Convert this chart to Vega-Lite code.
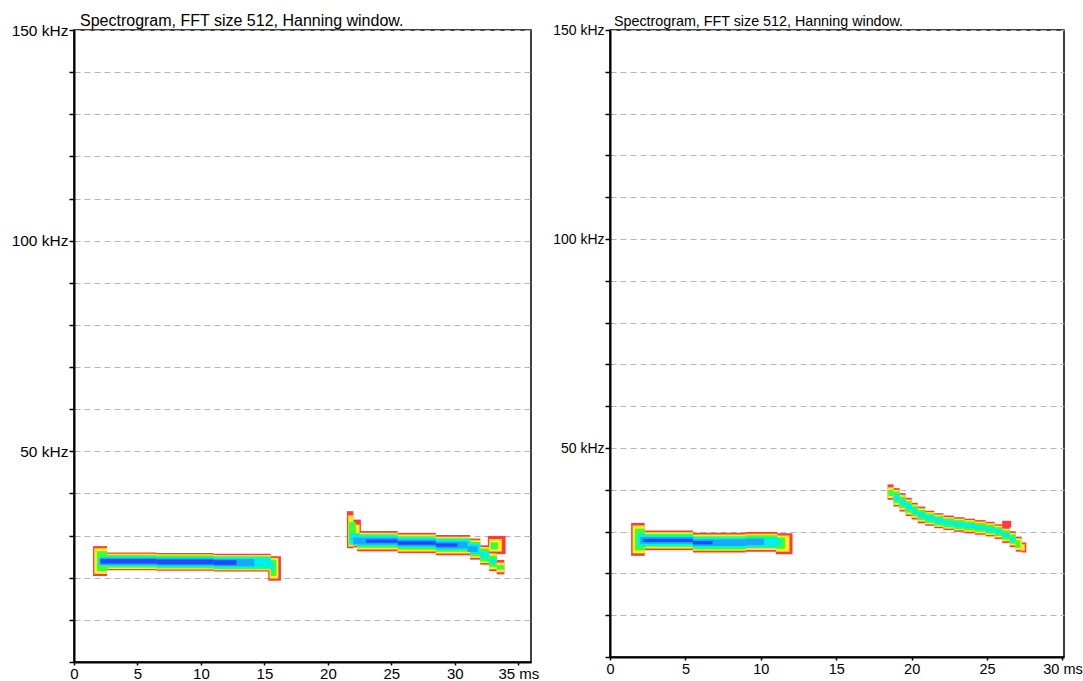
{
  "$schema": "https://vega.github.io/schema/vega-lite/v6.json",
  "padding": {"left": 10, "top": 12, "right": 0, "bottom": 0},
  "bounds": "flush",
  "spacing": 79,
  "background": "white",
  "config": {
    "view": {"stroke": "black", "strokeWidth": 1.5},
    "font": "Liberation Sans",
    "axis": {"labelFont": "Liberation Sans", "labelColor": "black", "domainColor": "black", "domainWidth": 2, "tickColor": "black", "tickWidth": 1.5, "title": null, "labelOverlap": false, "labelFlush": false}
  },
  "datasets": {
    "L": [
      {"t": 1.5, "t2": 2.6, "f": 20.4, "f2": 27.5, "lv": 1},
      {"t": 2.5, "t2": 6.5, "f": 21.8, "f2": 26.0, "lv": 1},
      {"t": 6.5, "t2": 11, "f": 21.65, "f2": 25.85, "lv": 1},
      {"t": 11, "t2": 15.5, "f": 21.5, "f2": 25.7, "lv": 1},
      {"t": 15.3, "t2": 16.3, "f": 19.3, "f2": 25.1, "lv": 1},
      {"t": 21.5, "t2": 22.0, "f": 27.0, "f2": 35.8, "lv": 1},
      {"t": 22.0, "t2": 22.6, "f": 27.2, "f2": 33.8, "lv": 1},
      {"t": 22.3, "t2": 25.5, "f": 26.3, "f2": 31.1, "lv": 1},
      {"t": 25.5, "t2": 28.5, "f": 25.85, "f2": 30.65, "lv": 1},
      {"t": 28.5, "t2": 31.2, "f": 25.35, "f2": 30.15, "lv": 1},
      {"t": 31.2, "t2": 32.0, "f": 24.3, "f2": 29.3, "lv": 1},
      {"t": 32.0, "t2": 32.7, "f": 23.1, "f2": 27.7, "lv": 1},
      {"t": 32.7, "t2": 33.3, "f": 21.6, "f2": 26.2, "lv": 1},
      {"t": 33.3, "t2": 33.9, "f": 20.8, "f2": 24.2, "lv": 1},
      {"t": 32.6, "t2": 34.0, "f": 25.6, "f2": 29.9, "lv": 1},

      {"t": 1.6, "t2": 2.6, "f": 20.9, "f2": 27.0, "lv": 2},
      {"t": 2.5, "t2": 6.5, "f": 22.1, "f2": 25.7, "lv": 2},
      {"t": 6.5, "t2": 11, "f": 21.95, "f2": 25.55, "lv": 2},
      {"t": 11, "t2": 15.5, "f": 21.8, "f2": 25.4, "lv": 2},
      {"t": 15.4, "t2": 16.1, "f": 19.8, "f2": 24.7, "lv": 2},
      {"t": 21.6, "t2": 22.0, "f": 27.4, "f2": 34.8, "lv": 2},
      {"t": 22.0, "t2": 22.5, "f": 27.6, "f2": 32.6, "lv": 2},
      {"t": 22.3, "t2": 25.5, "f": 26.7, "f2": 30.7, "lv": 2},
      {"t": 25.5, "t2": 28.5, "f": 26.25, "f2": 30.25, "lv": 2},
      {"t": 28.5, "t2": 31.2, "f": 25.75, "f2": 29.75, "lv": 2},
      {"t": 31.2, "t2": 32.0, "f": 24.7, "f2": 28.9, "lv": 2},
      {"t": 32.0, "t2": 32.7, "f": 23.5, "f2": 27.3, "lv": 2},
      {"t": 32.7, "t2": 33.3, "f": 22.0, "f2": 25.8, "lv": 2},
      {"t": 33.3, "t2": 33.9, "f": 21.3, "f2": 23.6, "lv": 2},
      {"t": 32.7, "t2": 33.7, "f": 26.2, "f2": 29.2, "lv": 2},

      {"t": 1.8, "t2": 2.6, "f": 21.6, "f2": 26.3, "lv": 3},
      {"t": 2.5, "t2": 6.5, "f": 22.4, "f2": 25.4, "lv": 3},
      {"t": 6.5, "t2": 11, "f": 22.25, "f2": 25.25, "lv": 3},
      {"t": 11, "t2": 15.5, "f": 22.1, "f2": 25.1, "lv": 3},
      {"t": 15.5, "t2": 15.95, "f": 20.4, "f2": 24.3, "lv": 3},
      {"t": 21.65, "t2": 22.2, "f": 27.8, "f2": 33.2, "lv": 3},
      {"t": 22.3, "t2": 25.5, "f": 27.1, "f2": 30.3, "lv": 3},
      {"t": 25.5, "t2": 28.5, "f": 26.65, "f2": 29.85, "lv": 3},
      {"t": 28.5, "t2": 31.2, "f": 26.15, "f2": 29.35, "lv": 3},
      {"t": 31.2, "t2": 32.0, "f": 25.1, "f2": 28.5, "lv": 3},
      {"t": 32.0, "t2": 32.7, "f": 23.9, "f2": 26.9, "lv": 3},
      {"t": 32.7, "t2": 33.3, "f": 22.6, "f2": 25.2, "lv": 3},
      {"t": 33.3, "t2": 33.9, "f": 21.9, "f2": 23.0, "lv": 3},
      {"t": 32.8, "t2": 33.4, "f": 26.8, "f2": 28.4, "lv": 3},

      {"t": 2.0, "t2": 2.6, "f": 23.0, "f2": 25.0, "lv": 4},
      {"t": 2.5, "t2": 6.5, "f": 22.75, "f2": 25.05, "lv": 4},
      {"t": 6.5, "t2": 11, "f": 22.6, "f2": 24.9, "lv": 4},
      {"t": 11, "t2": 15.5, "f": 22.45, "f2": 24.75, "lv": 4},
      {"t": 15.5, "t2": 15.8, "f": 21.8, "f2": 23.6, "lv": 4},
      {"t": 21.75, "t2": 22.5, "f": 28.2, "f2": 30.6, "lv": 4},
      {"t": 22.3, "t2": 25.5, "f": 27.5, "f2": 29.9, "lv": 4},
      {"t": 25.5, "t2": 28.5, "f": 27.05, "f2": 29.45, "lv": 4},
      {"t": 28.5, "t2": 31.2, "f": 26.55, "f2": 28.95, "lv": 4},
      {"t": 31.2, "t2": 32.0, "f": 25.6, "f2": 28.0, "lv": 4},
      {"t": 32.0, "t2": 32.7, "f": 24.6, "f2": 26.2, "lv": 4},
      {"t": 32.7, "t2": 33.3, "f": 23.3, "f2": 24.5, "lv": 4},

      {"t": 2.0, "t2": 6.5, "f": 23.05, "f2": 24.75, "lv": 5},
      {"t": 6.5, "t2": 11, "f": 22.9, "f2": 24.6, "lv": 5},
      {"t": 11, "t2": 14.2, "f": 22.75, "f2": 24.45, "lv": 5},
      {"t": 22.0, "t2": 25.5, "f": 27.9, "f2": 29.5, "lv": 5},
      {"t": 25.5, "t2": 28.5, "f": 27.45, "f2": 29.05, "lv": 5},
      {"t": 28.5, "t2": 31.0, "f": 26.95, "f2": 28.55, "lv": 5},
      {"t": 31.0, "t2": 31.8, "f": 26.1, "f2": 27.5, "lv": 5},

      {"t": 2.1, "t2": 6.5, "f": 23.35, "f2": 24.45, "lv": 6},
      {"t": 6.5, "t2": 11, "f": 23.2, "f2": 24.3, "lv": 6},
      {"t": 11, "t2": 12.8, "f": 23.05, "f2": 24.15, "lv": 6},
      {"t": 23.0, "t2": 25.5, "f": 28.3, "f2": 29.1, "lv": 6},
      {"t": 25.5, "t2": 28.5, "f": 27.85, "f2": 28.65, "lv": 6},
      {"t": 28.5, "t2": 30.2, "f": 27.35, "f2": 28.15, "lv": 6}
    ],
    "R": [
      {"t": 1.4, "t2": 2.3, "f": 24.2, "f2": 32.1, "lv": 1},
      {"t": 2.3, "t2": 5.5, "f": 25.55, "f2": 30.25, "lv": 1},
      {"t": 5.5, "t2": 9, "f": 25.0, "f2": 29.7, "lv": 1},
      {"t": 9, "t2": 11.1, "f": 25.2, "f2": 29.9, "lv": 1},
      {"t": 11.0, "t2": 12.1, "f": 24.6, "f2": 29.6, "lv": 1},
      {"t": 18.4, "t2": 18.8, "f": 37.6, "f2": 41.3, "lv": 1},
      {"t": 18.8, "t2": 19.2, "f": 36.0, "f2": 40.4, "lv": 1},
      {"t": 19.2, "t2": 19.6, "f": 34.8, "f2": 39.2, "lv": 1},
      {"t": 19.6, "t2": 20.0, "f": 33.7, "f2": 38.1, "lv": 1},
      {"t": 20.0, "t2": 20.4, "f": 32.9, "f2": 36.9, "lv": 1},
      {"t": 20.4, "t2": 20.9, "f": 32.0, "f2": 36.0, "lv": 1},
      {"t": 20.9, "t2": 21.5, "f": 31.4, "f2": 35.0, "lv": 1},
      {"t": 21.5, "t2": 22.1, "f": 30.8, "f2": 34.4, "lv": 1},
      {"t": 22.1, "t2": 22.8, "f": 30.35, "f2": 33.85, "lv": 1},
      {"t": 22.8, "t2": 23.5, "f": 29.95, "f2": 33.45, "lv": 1},
      {"t": 23.5, "t2": 24.2, "f": 29.6, "f2": 33.1, "lv": 1},
      {"t": 24.2, "t2": 24.9, "f": 29.25, "f2": 32.75, "lv": 1},
      {"t": 24.9, "t2": 25.5, "f": 28.85, "f2": 32.35, "lv": 1},
      {"t": 25.5, "t2": 26.0, "f": 28.25, "f2": 31.75, "lv": 1},
      {"t": 26.0, "t2": 26.5, "f": 27.3, "f2": 31.1, "lv": 1},
      {"t": 26.5, "t2": 26.9, "f": 26.3, "f2": 30.1, "lv": 1},
      {"t": 26.9, "t2": 27.3, "f": 25.2, "f2": 28.8, "lv": 1},
      {"t": 27.3, "t2": 27.6, "f": 25.0, "f2": 27.4, "lv": 1},
      {"t": 26.0, "t2": 26.6, "f": 31.0, "f2": 32.6, "lv": 1},

      {"t": 1.5, "t2": 2.3, "f": 24.8, "f2": 31.5, "lv": 2},
      {"t": 2.3, "t2": 5.5, "f": 25.95, "f2": 29.85, "lv": 2},
      {"t": 5.5, "t2": 9, "f": 25.4, "f2": 29.3, "lv": 2},
      {"t": 9, "t2": 11.1, "f": 25.6, "f2": 29.5, "lv": 2},
      {"t": 11.0, "t2": 11.9, "f": 25.2, "f2": 29.1, "lv": 2},
      {"t": 18.4, "t2": 18.8, "f": 38.0, "f2": 40.6, "lv": 2},
      {"t": 18.8, "t2": 19.2, "f": 36.4, "f2": 40.0, "lv": 2},
      {"t": 19.2, "t2": 19.6, "f": 35.2, "f2": 38.8, "lv": 2},
      {"t": 19.6, "t2": 20.0, "f": 34.1, "f2": 37.7, "lv": 2},
      {"t": 20.0, "t2": 20.4, "f": 33.3, "f2": 36.5, "lv": 2},
      {"t": 20.4, "t2": 20.9, "f": 32.4, "f2": 35.6, "lv": 2},
      {"t": 20.9, "t2": 21.5, "f": 31.75, "f2": 34.65, "lv": 2},
      {"t": 21.5, "t2": 22.1, "f": 31.15, "f2": 34.05, "lv": 2},
      {"t": 22.1, "t2": 22.8, "f": 30.7, "f2": 33.5, "lv": 2},
      {"t": 22.8, "t2": 23.5, "f": 30.3, "f2": 33.1, "lv": 2},
      {"t": 23.5, "t2": 24.2, "f": 29.95, "f2": 32.75, "lv": 2},
      {"t": 24.2, "t2": 24.9, "f": 29.6, "f2": 32.4, "lv": 2},
      {"t": 24.9, "t2": 25.5, "f": 29.2, "f2": 32.0, "lv": 2},
      {"t": 25.5, "t2": 26.0, "f": 28.6, "f2": 31.4, "lv": 2},
      {"t": 26.0, "t2": 26.5, "f": 27.7, "f2": 30.7, "lv": 2},
      {"t": 26.5, "t2": 26.9, "f": 26.7, "f2": 29.7, "lv": 2},
      {"t": 26.9, "t2": 27.3, "f": 25.6, "f2": 28.4, "lv": 2},
      {"t": 27.3, "t2": 27.5, "f": 25.4, "f2": 27.0, "lv": 2},

      {"t": 1.65, "t2": 2.3, "f": 25.5, "f2": 30.7, "lv": 3},
      {"t": 2.3, "t2": 5.5, "f": 26.35, "f2": 29.45, "lv": 3},
      {"t": 5.5, "t2": 9, "f": 25.8, "f2": 28.9, "lv": 3},
      {"t": 9, "t2": 11.1, "f": 26.0, "f2": 29.1, "lv": 3},
      {"t": 11.0, "t2": 11.6, "f": 25.9, "f2": 28.6, "lv": 3},
      {"t": 18.45, "t2": 18.8, "f": 38.5, "f2": 40.0, "lv": 3},
      {"t": 18.8, "t2": 19.2, "f": 36.85, "f2": 39.55, "lv": 3},
      {"t": 19.2, "t2": 19.6, "f": 35.65, "f2": 38.35, "lv": 3},
      {"t": 19.6, "t2": 20.0, "f": 34.55, "f2": 37.25, "lv": 3},
      {"t": 20.0, "t2": 20.4, "f": 33.7, "f2": 36.1, "lv": 3},
      {"t": 20.4, "t2": 20.9, "f": 32.8, "f2": 35.2, "lv": 3},
      {"t": 20.9, "t2": 21.5, "f": 32.1, "f2": 34.3, "lv": 3},
      {"t": 21.5, "t2": 22.1, "f": 31.5, "f2": 33.7, "lv": 3},
      {"t": 22.1, "t2": 22.8, "f": 31.05, "f2": 33.15, "lv": 3},
      {"t": 22.8, "t2": 23.5, "f": 30.65, "f2": 32.75, "lv": 3},
      {"t": 23.5, "t2": 24.2, "f": 30.3, "f2": 32.4, "lv": 3},
      {"t": 24.2, "t2": 24.9, "f": 29.95, "f2": 32.05, "lv": 3},
      {"t": 24.9, "t2": 25.5, "f": 29.55, "f2": 31.65, "lv": 3},
      {"t": 25.5, "t2": 26.0, "f": 28.95, "f2": 31.05, "lv": 3},
      {"t": 26.0, "t2": 26.5, "f": 28.1, "f2": 30.3, "lv": 3},
      {"t": 26.5, "t2": 26.9, "f": 27.1, "f2": 29.3, "lv": 3},
      {"t": 26.9, "t2": 27.2, "f": 26.1, "f2": 27.9, "lv": 3},

      {"t": 1.85, "t2": 2.4, "f": 26.5, "f2": 29.4, "lv": 4},
      {"t": 2.3, "t2": 5.5, "f": 26.75, "f2": 29.05, "lv": 4},
      {"t": 5.5, "t2": 9, "f": 26.2, "f2": 28.5, "lv": 4},
      {"t": 9, "t2": 11.1, "f": 26.4, "f2": 28.7, "lv": 4},
      {"t": 11.0, "t2": 11.3, "f": 26.6, "f2": 28.3, "lv": 4},
      {"t": 18.8, "t2": 19.2, "f": 37.5, "f2": 38.9, "lv": 4},
      {"t": 19.2, "t2": 19.6, "f": 36.3, "f2": 37.7, "lv": 4},
      {"t": 19.6, "t2": 20.0, "f": 35.2, "f2": 36.6, "lv": 4},
      {"t": 20.0, "t2": 20.4, "f": 34.3, "f2": 35.5, "lv": 4},
      {"t": 20.4, "t2": 20.9, "f": 33.4, "f2": 34.6, "lv": 4},
      {"t": 20.9, "t2": 21.5, "f": 32.65, "f2": 33.75, "lv": 4},
      {"t": 21.5, "t2": 22.1, "f": 32.05, "f2": 33.15, "lv": 4},
      {"t": 22.1, "t2": 22.8, "f": 31.6, "f2": 32.6, "lv": 4},
      {"t": 22.8, "t2": 23.5, "f": 31.2, "f2": 32.2, "lv": 4},
      {"t": 23.5, "t2": 24.2, "f": 30.85, "f2": 31.85, "lv": 4},
      {"t": 24.2, "t2": 24.9, "f": 30.5, "f2": 31.5, "lv": 4},
      {"t": 24.9, "t2": 25.5, "f": 30.1, "f2": 31.1, "lv": 4},
      {"t": 25.5, "t2": 26.0, "f": 29.5, "f2": 30.5, "lv": 4},
      {"t": 26.0, "t2": 26.5, "f": 28.7, "f2": 29.7, "lv": 4},
      {"t": 26.5, "t2": 26.9, "f": 27.7, "f2": 28.7, "lv": 4},

      {"t": 2.0, "t2": 5.5, "f": 27.1, "f2": 28.7, "lv": 5},
      {"t": 5.5, "t2": 9, "f": 26.55, "f2": 28.15, "lv": 5},
      {"t": 9, "t2": 10.2, "f": 26.75, "f2": 28.35, "lv": 5},

      {"t": 2.2, "t2": 5.5, "f": 27.5, "f2": 28.3, "lv": 6},
      {"t": 5.5, "t2": 6.8, "f": 26.95, "f2": 27.75, "lv": 6}
    ]
  },
  "resolve": {"scale": {"x": "independent", "y": "independent"}},
  "hconcat": [
    {
      "width": 457,
      "height": 632,
      "title": {"text": "Spectrogram, FFT size 512, Hanning window.", "anchor": "start", "frame": "group", "font": "Liberation Sans", "fontSize": 16, "fontWeight": "normal", "color": "black", "offset": -6, "dx": 6},
      "data": {"name": "L"},
      "mark": {"type": "rect"},
      "encoding": {
        "x": {"field": "t", "type": "quantitative", "scale": {"domain": [0, 36], "nice": false, "zero": false},
          "axis": {"values": [0, 5, 10, 15, 20, 25, 30, 35], "labelExpr": "datum.value == 35 ? '35 ms' : datum.label", "grid": false, "tickSize": 3, "labelPadding": 1, "labelFontSize": 15}},
        "x2": {"field": "t2"},
        "y": {"field": "f", "type": "quantitative", "scale": {"domain": [0, 150], "nice": false, "zero": false},
          "axis": {"values": [0, 10, 20, 30, 40, 50, 60, 70, 80, 90, 100, 110, 120, 130, 140, 150], "labelExpr": "datum.value % 50 == 0 && datum.value > 0 ? datum.value + ' kHz' : ''", "grid": true, "gridDash": [6, 4], "gridColor": "#b5b5b5", "gridWidth": 1, "tickSize": 5, "labelPadding": 1, "labelFontSize": 15.5}},
        "y2": {"field": "f2"},
        "color": {"field": "lv", "type": "ordinal", "scale": {"domain": [1, 2, 3, 4, 5, 6], "range": ["#ff3b3b", "#ffee22", "#3cff3c", "#00f0e8", "#1aa8ff", "#2448ff"]}, "legend": null},
        "order": {"field": "lv"}
      }
    },
    {
      "width": 454,
      "height": 627,
      "title": {"text": "Spectrogram, FFT size 512, Hanning window.", "anchor": "start", "frame": "group", "font": "Liberation Sans", "fontSize": 14.3, "fontWeight": "normal", "color": "black", "offset": -6, "dx": 4},
      "data": {"name": "R"},
      "mark": {"type": "rect"},
      "encoding": {
        "x": {"field": "t", "type": "quantitative", "scale": {"domain": [0, 30.1], "nice": false, "zero": false},
          "axis": {"values": [0, 5, 10, 15, 20, 25, 30], "labelExpr": "datum.value == 30 ? '30 ms' : datum.label", "grid": false, "tickSize": 3, "labelPadding": 2, "labelFontSize": 14.5}},
        "x2": {"field": "t2"},
        "y": {"field": "f", "type": "quantitative", "scale": {"domain": [0, 150], "nice": false, "zero": false},
          "axis": {"values": [0, 10, 20, 30, 40, 50, 60, 70, 80, 90, 100, 110, 120, 130, 140, 150], "labelExpr": "datum.value % 50 == 0 && datum.value > 0 ? datum.value + ' kHz' : ''", "grid": true, "gridDash": [6, 4], "gridColor": "#b5b5b5", "gridWidth": 1, "tickSize": 5, "labelPadding": 1, "labelFontSize": 14}},
        "y2": {"field": "f2"},
        "color": {"field": "lv", "type": "ordinal", "scale": {"domain": [1, 2, 3, 4, 5, 6], "range": ["#ff3b3b", "#ffee22", "#3cff3c", "#00f0e8", "#1aa8ff", "#2448ff"]}, "legend": null},
        "order": {"field": "lv"}
      }
    }
  ]
}
